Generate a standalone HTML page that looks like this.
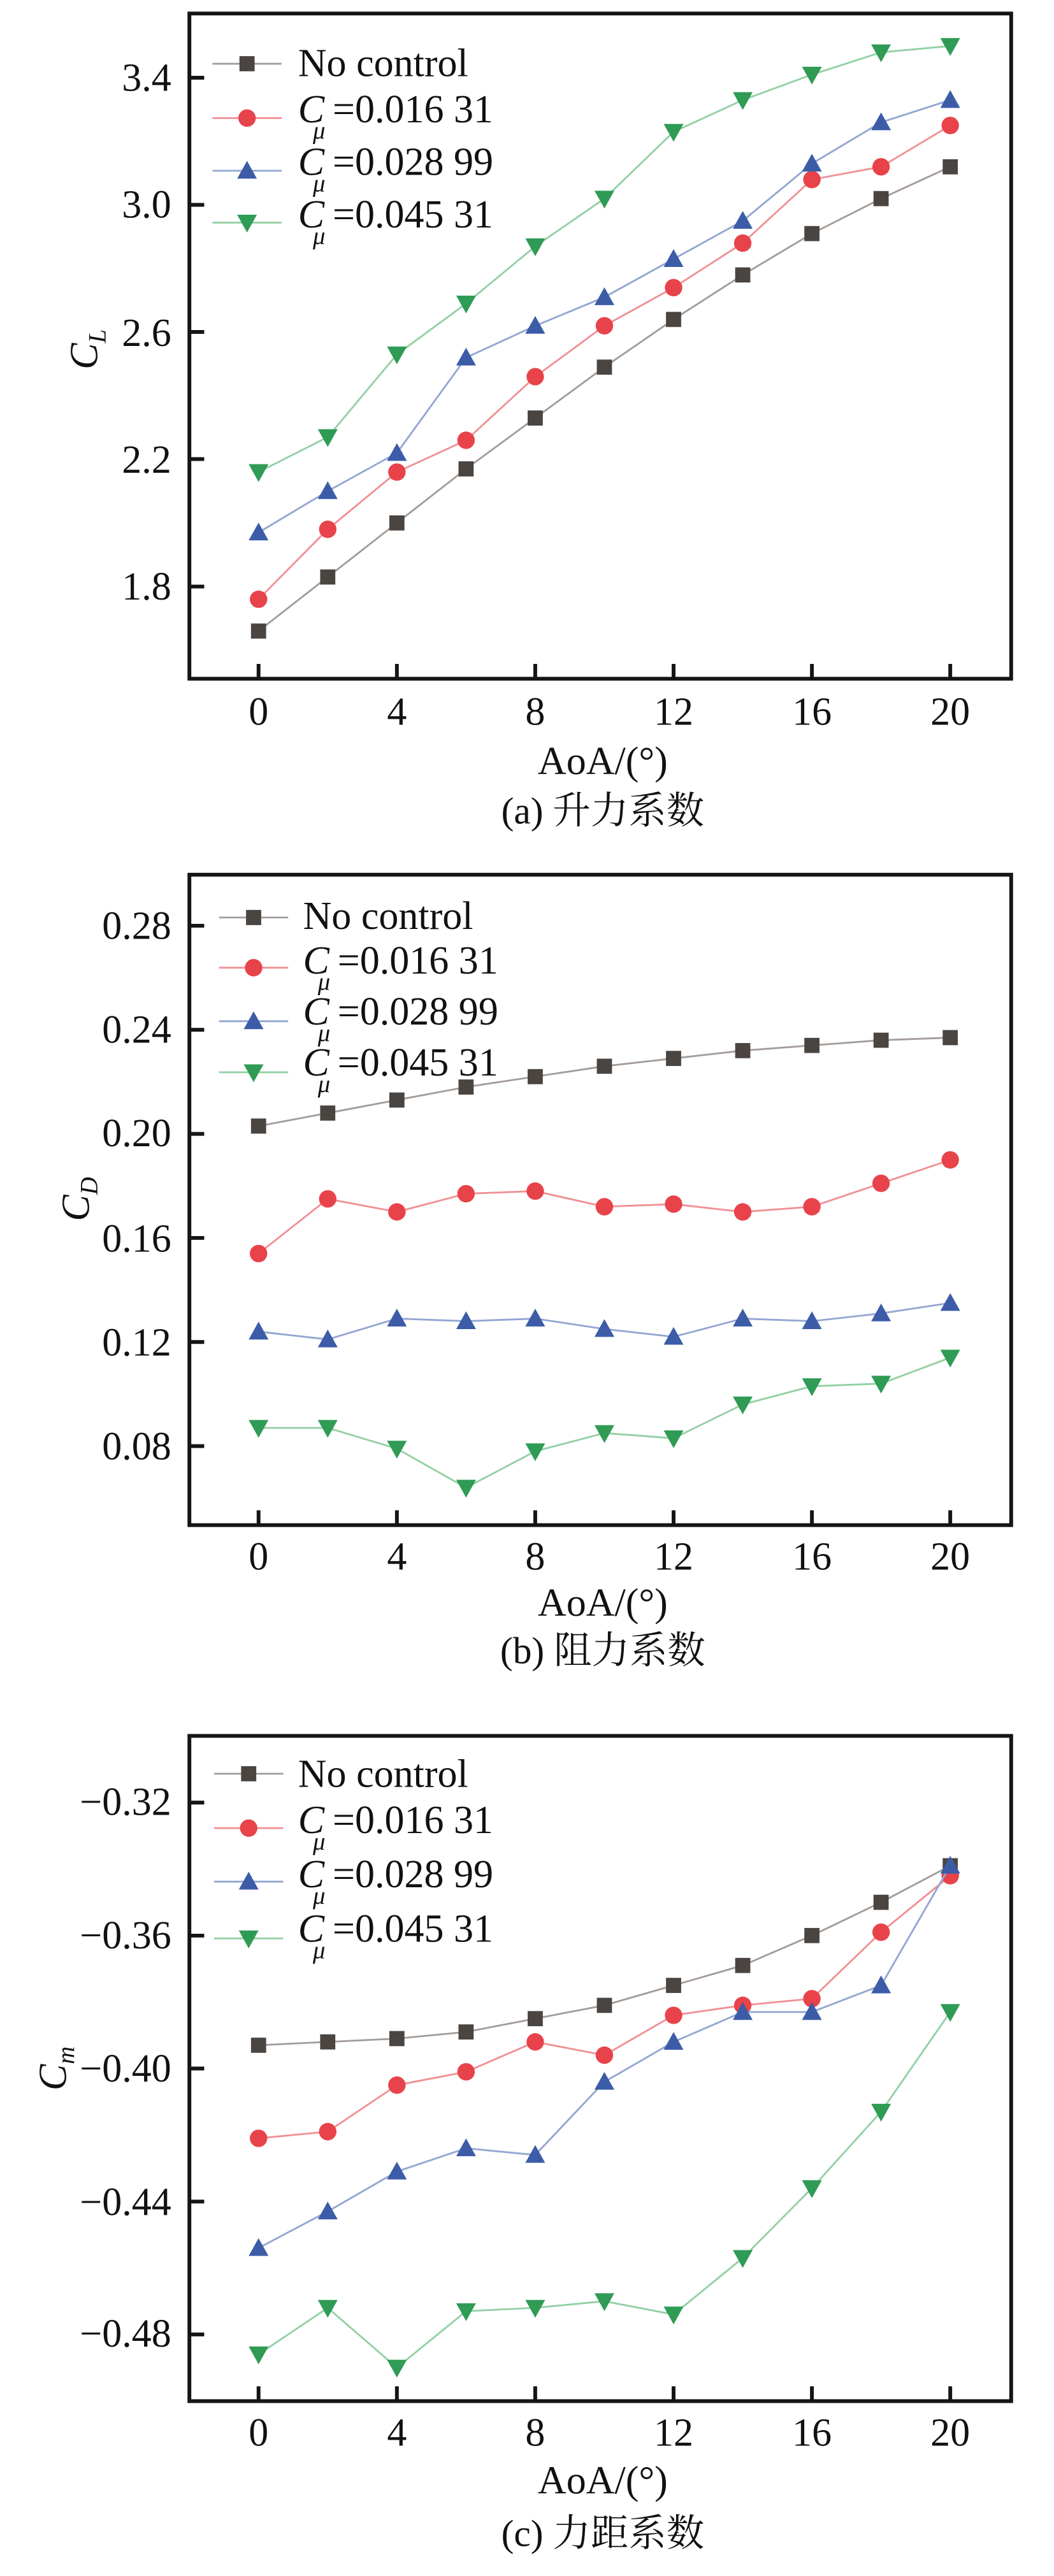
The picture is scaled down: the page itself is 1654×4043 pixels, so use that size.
<!DOCTYPE html>
<html><head><meta charset="utf-8"><style>
html,body{margin:0;padding:0;background:#fff;}
svg{display:block;}
text{font-family:"Liberation Serif","Noto Serif CJK SC",serif;fill:#111;}
</style></head><body>
<svg id="s" width="1654" height="4043" viewBox="0 0 640 1564" xmlns="http://www.w3.org/2000/svg">
<g id="plots"></g>
<g font-size="24" font-family="Liberation Serif, Noto Serif CJK SC, serif">
<!-- Plot a -->
<rect x="115" y="8" width="499" height="404" fill="none" stroke="#151515" stroke-width="2.3"/>
<g text-anchor="end">
<text x="104" y="55">3.4</text><text x="104" y="132">3.0</text><text x="104" y="210">2.6</text><text x="104" y="287">2.2</text><text x="104" y="364">1.8</text>
</g>
<g text-anchor="middle">
<text x="157" y="440">0</text><text x="241" y="440">4</text><text x="325" y="440">8</text><text x="409" y="440">12</text><text x="493" y="440">16</text><text x="577" y="440">20</text>
<text x="366" y="470">AoA/(°)</text>
<text x="366" y="500" font-size="23">(a) 升力系数</text>
</g>
<text transform="translate(59,212) rotate(-90)" text-anchor="middle" font-style="italic">C<tspan font-size="15" dy="5">L</tspan></text>
<text x="181" y="46">No control</text>
<text x="181" y="74" font-style="italic">C</text><text x="190" y="84" font-size="15" font-style="italic">μ</text><text x="202" y="74">=0.016 31</text>
<text x="181" y="106" font-style="italic">C</text><text x="190" y="116" font-size="15" font-style="italic">μ</text><text x="202" y="106">=0.028 99</text>
<text x="181" y="138" font-style="italic">C</text><text x="190" y="148" font-size="15" font-style="italic">μ</text><text x="202" y="138">=0.045 31</text>

<!-- Plot b -->
<rect x="115" y="531" width="499" height="395" fill="none" stroke="#151515" stroke-width="2.3"/>
<g text-anchor="end">
<text x="104" y="570">0.28</text><text x="104" y="633">0.24</text><text x="104" y="696">0.20</text><text x="104" y="760">0.16</text><text x="104" y="823">0.12</text><text x="104" y="886">0.08</text>
</g>
<g text-anchor="middle">
<text x="157" y="953">0</text><text x="241" y="953">4</text><text x="325" y="953">8</text><text x="409" y="953">12</text><text x="493" y="953">16</text><text x="577" y="953">20</text>
<text x="366" y="981">AoA/(°)</text>
<text x="366" y="1010" font-size="23">(b) 阻力系数</text>
</g>
<text transform="translate(54,728) rotate(-90)" text-anchor="middle" font-style="italic">C<tspan font-size="15" dy="5">D</tspan></text>
<text x="184" y="564">No control</text>
<text x="184" y="591" font-style="italic">C</text><text x="193" y="601" font-size="15" font-style="italic">μ</text><text x="205" y="591">=0.016 31</text>
<text x="184" y="622" font-style="italic">C</text><text x="193" y="632" font-size="15" font-style="italic">μ</text><text x="205" y="622">=0.028 99</text>
<text x="184" y="653" font-style="italic">C</text><text x="193" y="663" font-size="15" font-style="italic">μ</text><text x="205" y="653">=0.045 31</text>

<!-- Plot c -->
<rect x="115" y="1054" width="499" height="404" fill="none" stroke="#151515" stroke-width="2.3"/>
<g text-anchor="end">
<text x="104" y="1102">−0.32</text><text x="104" y="1183">−0.36</text><text x="104" y="1264">−0.40</text><text x="104" y="1345">−0.44</text><text x="104" y="1425">−0.48</text>
</g>
<g text-anchor="middle">
<text x="157" y="1485">0</text><text x="241" y="1485">4</text><text x="325" y="1485">8</text><text x="409" y="1485">12</text><text x="493" y="1485">16</text><text x="577" y="1485">20</text>
<text x="366" y="1514">AoA/(°)</text>
<text x="366" y="1546" font-size="23">(c) 力距系数</text>
</g>
<text transform="translate(40,1256) rotate(-90)" text-anchor="middle" font-style="italic">C<tspan font-size="15" dy="5">m</tspan></text>
<text x="181" y="1085">No control</text>
<text x="181" y="1113" font-style="italic">C</text><text x="190" y="1123" font-size="15" font-style="italic">μ</text><text x="202" y="1113">=0.016 31</text>
<text x="181" y="1146" font-style="italic">C</text><text x="190" y="1156" font-size="15" font-style="italic">μ</text><text x="202" y="1146">=0.028 99</text>
<text x="181" y="1179" font-style="italic">C</text><text x="190" y="1189" font-size="15" font-style="italic">μ</text><text x="202" y="1179">=0.045 31</text>
</g>
</svg>
<script>
(function(){
var NS="http://www.w3.org/2000/svg",g=document.getElementById("plots");
function el(t,a){var e=document.createElementNS(NS,t);for(var k in a)e.setAttribute(k,a[k]);g.appendChild(e);return e;}
var col=[["#a39c99","#4a4541"],["#f09095","#e8434a"],["#93a6d2","#3c5ca8"],["#93d0a4","#2f9b55"]];
function marker(i,x,y){var c=col[i][1];
 if(i==0)el("rect",{x:x-4.6,y:y-4.6,width:9.2,height:9.2,fill:c});
 else if(i==1)el("circle",{cx:x,cy:y,r:5.3,fill:c});
 else if(i==2)el("polygon",{points:(x-6)+","+(y+4.8)+" "+(x+6)+","+(y+4.8)+" "+x+","+(y-6),fill:c});
 else el("polygon",{points:(x-6)+","+(y-4.8)+" "+(x+6)+","+(y-4.8)+" "+x+","+(y+6),fill:c});}
function X(i){return 157+i*42;}
function plot(data,Y,ticksY,bottom,leg){
 for(var k=0;k<=10;k+=2){el("line",{x1:X(k),x2:X(k),y1:bottom,y2:bottom-9,stroke:"#151515","stroke-width":2.3});}
 ticksY.forEach(function(y){el("line",{x1:115,x2:124,y1:y,y2:y,stroke:"#151515","stroke-width":2.3});});
 data.forEach(function(d,i){
  var pts=d.map(function(v,j){return X(j)+","+Y(v);}).join(" ");
  el("polyline",{points:pts,fill:"none",stroke:col[i][0],"stroke-width":1.1});
  d.forEach(function(v,j){marker(i,X(j),Y(v));});
  var ly=leg.y[i];
  el("line",{x1:leg.x-21,x2:leg.x+21,y1:ly,y2:ly,stroke:col[i][0],"stroke-width":1.1});
  marker(i,leg.x,ly);
 });}
plot([[1.66,1.83,2.00,2.17,2.33,2.49,2.64,2.78,2.91,3.02,3.12],
 [1.76,1.98,2.16,2.26,2.46,2.62,2.74,2.88,3.08,3.12,3.25],
 [1.97,2.10,2.22,2.52,2.62,2.71,2.83,2.95,3.13,3.26,3.33],
 [2.16,2.27,2.53,2.69,2.87,3.02,3.23,3.33,3.41,3.48,3.50]],
 function(v){return 356-(v-1.8)*193.1;},[47,124.2,201.4,278.6,356],412,{x:150,y:[38.5,71.5,103.5,135]});
plot([[.203,.208,.213,.218,.222,.226,.229,.232,.234,.236,.237],
 [.154,.175,.170,.177,.178,.172,.173,.170,.172,.181,.190],
 [.124,.121,.129,.128,.129,.125,.122,.129,.128,.131,.135],
 [.087,.087,.079,.064,.078,.085,.083,.096,.103,.104,.114]],
 function(v){return 878-(v-0.08)*1580;},[562,625.2,688.4,751.6,814.8,878],926,{x:154,y:[557,587.5,620,651]});
plot([[-.393,-.392,-.391,-.389,-.385,-.381,-.375,-.369,-.360,-.350,-.339],
 [-.421,-.419,-.405,-.401,-.392,-.396,-.384,-.381,-.379,-.359,-.342],
 [-.454,-.443,-.431,-.424,-.426,-.404,-.392,-.383,-.383,-.375,-.339],
 [-.486,-.472,-.490,-.473,-.472,-.470,-.474,-.457,-.436,-.413,-.383]],
 function(v){return 1094.5+(-0.32-v)*2018.75;},[1094.5,1175.3,1256,1336.8,1417.5],1458,{x:151,y:[1077,1110,1142.5,1177]});
})();
</script>
</body></html>
